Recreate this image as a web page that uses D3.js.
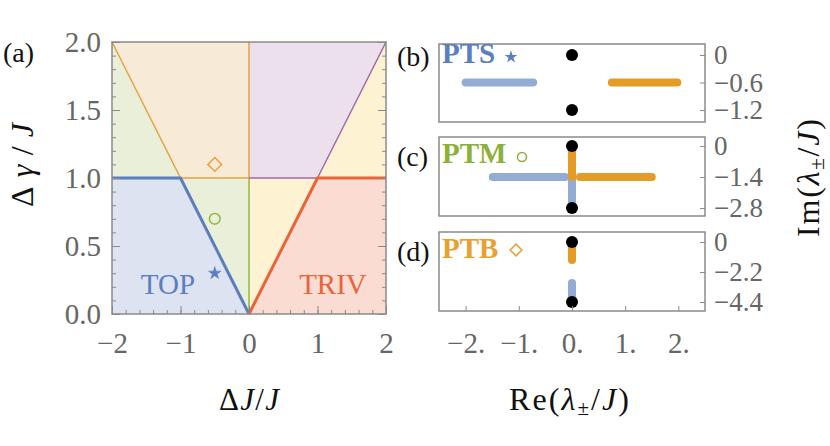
<!DOCTYPE html>
<html><head><meta charset="utf-8">
<script src="https://cdn.jsdelivr.net/npm/d3@7"></script>
<style>
body{margin:0;background:#fff;}
svg{display:block;}
text{font-family:"Liberation Serif","Times New Roman",serif;}
</style></head>
<body>
<svg id="chart" width="830" height="446"></svg>
<script>
// ---------- data ----------
// phase diagram (a): region polygons in (ΔJ/J, Δγ/J)
const regionNames  = ["TOP","PTM-left","PTM-mid","PTB","PTX","YEL-mid","YEL-right","TRIV"];
const regionColors = ["#dde3f0","#e9efd9","#e9efd9","#f7ead6","#ece0ec","#fdf3d2","#fdf3d2","#fadcd3"];
const regionPolys  = [
  [[-2,0],[-2,1],[-1,1],[0,0]],
  [[-2,1],[-2,2],[-1,1]],
  [[-1,1],[0,1],[0,0]],
  [[-2,2],[0,2],[0,1],[-1,1]],
  [[0,2],[2,2],[1,1],[0,1]],
  [[0,0],[0,1],[1,1]],
  [[1,1],[2,2],[2,1]],
  [[0,0],[2,0],[2,1],[1,1]]
];
// boundary lines
const boundaryPaths  = [
  [[-2,2],[-1,1],[0,1],[0,2]],
  [[0,0],[0,1]],
  [[0,1],[1,1],[2,2]],
  [[-2,1],[-1,1],[0,0]],
  [[0,0],[1,1],[2,1]]
];
const boundaryColors = ["#e6a23c","#90b83c","#9e6aac","#5a7ebf","#ea6438"];
const boundaryWidths = [1.5,1.5,1.5,3,3];
// markers in (a)
const markerKinds  = ["diamond","circle","star"];
const markerPoints = [[-0.5,1.1],[-0.5,0.7],[-0.5,0.3]];
const markerColors = ["#e6a23c","#90b83c","#5a7ebf"];
// axis ticks
const aXMajor = [-2,-1,0,1,2];
const aYMajor = [0,0.5,1,1.5,2];
// spectra panels (b)-(d)
const panelNames   = ["PTS","PTM","PTB"];
const panelLetters = ["(b)","(c)","(d)"];
const panelColors  = ["#5a7ebf","#8cb03a","#e8a030"];
const panelYTicks  = [[0,-0.6,-1.2],[0,-1.4,-2.8],[0,-2.2,-4.4]];
const panelYDomain = [[-1.46,0.24],[-3.16,0.41],[-5.06,0.73]];
const reTicks = [-2,-1,0,1,2];
// segments: [re1, im1, re2, im2]
const blueSegs = [
  [[-2.0,-0.6,-0.73,-0.6]],
  [[-1.49,-1.4,-0.13,-1.4],[0,-1.4,0,-2.55]],
  [[0,-3.0,0,-4.4]]
];
const orangeSegs = [
  [[0.75,-0.6,1.98,-0.6]],
  [[0.15,-1.4,1.5,-1.4],[0,0,0,-1.4]],
  [[0,0,0,-1.32]]
];
const dotPoints = [
  [[0,0],[0,-1.2]],
  [[0,0],[0,-2.8]],
  [[0,0],[0,-4.4]]
];

// ---------- drawing ----------
const svg = d3.select("#chart");
const MINUS = "\u2212";
const fmtSigned = d => d === 0 ? "0" : (d < 0 ? MINUS : "") + Math.abs(d);
const tickGrey = "#8a8a8a", labelGrey = "#666666", frameGrey = "#8a8a8a";

function styleAxis(g, fs){
  g.select(".domain").remove();
  g.selectAll(".tick line").attr("stroke", tickGrey).attr("stroke-width",1);
  g.selectAll("text").attr("font-size",fs || 29).attr("fill",labelGrey);
  g.attr("font-family",null).attr("font-size",null);
}

// ===== panel (a) =====
const xA = d3.scaleLinear().domain([-2,2]).range([112,386]);
const yA = d3.scaleLinear().domain([0,2]).range([314,42]);
const lineA = d3.line().x(d=>xA(d[0])).y(d=>yA(d[1]));

const gA = svg.append("g");
gA.selectAll("path.region").data(regionPolys).join("path")
  .attr("class","region")
  .attr("d", d => lineA(d) + "Z")
  .attr("fill",(d,i)=>regionColors[i]).attr("stroke","none");

gA.selectAll("path.bound").data(boundaryPaths).join("path")
  .attr("class","bound")
  .attr("d", lineA).attr("fill","none")
  .attr("stroke",(d,i)=>boundaryColors[i])
  .attr("stroke-width",(d,i)=>boundaryWidths[i])
  .attr("stroke-linejoin","round");

function symPath(kind, size){
  if(kind==="diamond") return d3.symbol(d3.symbolSquare, size)();
  if(kind==="circle") return d3.symbol(d3.symbolCircle, size)();
  return d3.symbol(d3.symbolStar, size)();
}
gA.selectAll("path.mk").data(markerPoints).join("path")
  .attr("class","mk")
  .attr("transform",(d,i)=>`translate(${xA(d[0])},${yA(d[1])})` + (markerKinds[i]==="diamond"?" rotate(45)":""))
  .attr("d",(d,i)=>symPath(markerKinds[i], markerKinds[i]==="diamond"?95:(markerKinds[i]==="circle"?90:50)))
  .attr("fill",(d,i)=>markerKinds[i]==="star"?markerColors[i]:"none")
  .attr("stroke",(d,i)=>markerColors[i])
  .attr("stroke-width",(d,i)=>markerKinds[i]==="star"?0.5:1.5);

// phase labels
gA.append("text").attr("x",168).attr("y",294).attr("text-anchor","middle")
  .attr("font-size",29).attr("fill","#5a7ebf").text("TOP");
gA.append("text").attr("x",333).attr("y",294).attr("text-anchor","middle")
  .attr("font-size",29).attr("fill","#ea6438").text("TRIV");

// axes (a)
const yMinor = d3.range(0,20.5,1).map(v=>v/10);
const xMinor = d3.range(-10,10.5,1).map(v=>v/5);
styleAxis(svg.append("g").attr("transform","translate(112,0)")
  .call(d3.axisLeft(yA).tickValues(yMinor).tickSize(-4).tickFormat("")));
styleAxis(svg.append("g").attr("transform","translate(112,0)")
  .call(d3.axisLeft(yA).tickValues(aYMajor).tickSize(-8).tickPadding(11).tickFormat(d3.format(".1f"))));
styleAxis(svg.append("g").attr("transform","translate(386,0)")
  .call(d3.axisRight(yA).tickValues(yMinor).tickSize(-4).tickFormat("")));
styleAxis(svg.append("g").attr("transform","translate(386,0)")
  .call(d3.axisRight(yA).tickValues(aYMajor).tickSize(-8).tickFormat("")));
styleAxis(svg.append("g").attr("transform","translate(0,314)")
  .call(d3.axisBottom(xA).tickValues(xMinor).tickSize(-4).tickFormat("")));
styleAxis(svg.append("g").attr("transform","translate(0,314)")
  .call(d3.axisBottom(xA).tickValues(aXMajor).tickSize(-8).tickPadding(18).tickFormat(fmtSigned)));

svg.append("rect").attr("x",112).attr("y",42).attr("width",274).attr("height",272)
  .attr("fill","none").attr("stroke",frameGrey).attr("stroke-width",1.5);

svg.append("text").attr("x",3).attr("y",62).attr("font-size",28).attr("fill","#111").text("(a)");

// axis titles (a)
const tx = svg.append("text").attr("x",249).attr("y",410).attr("text-anchor","middle")
  .attr("font-size",31).attr("fill","#111")
  .attr("textLength",60).attr("lengthAdjust","spacing");
tx.append("tspan").text("Δ");
tx.append("tspan").attr("font-style","italic").text("J");
tx.append("tspan").text("/");
tx.append("tspan").attr("font-style","italic").text("J");

const ty = svg.append("text").attr("transform","translate(33,165) rotate(-90)")
  .attr("text-anchor","middle").attr("font-size",32).attr("fill","#111")
  .attr("textLength",84).attr("lengthAdjust","spacing");
ty.append("tspan").text("Δ");
ty.append("tspan").attr("font-style","italic").text("γ");
ty.append("tspan").text("/");
ty.append("tspan").attr("font-style","italic").text("J");

// ===== panels (b)-(d) =====
const xR = d3.scaleLinear().domain([-2.5,2.5]).range([439,705]);
const panelTop = [44,137,232], panelBot = [122,216,311];
const nameBase = [63,163,258];
const blueC = "#93acd3", orangeC = "#e39c25";

panelNames.forEach((name,i)=>{
  const yS = d3.scaleLinear().domain(panelYDomain[i]).range([panelBot[i],panelTop[i]]);
  const g = svg.append("g");
  const segs = (arr,color)=>g.selectAll(null).data(arr).join("line")
    .attr("x1",d=>xR(d[0])).attr("y1",d=>yS(d[1]))
    .attr("x2",d=>xR(d[2])).attr("y2",d=>yS(d[3]))
    .attr("stroke",color).attr("stroke-width",8).attr("stroke-linecap","round");
  segs(blueSegs[i],blueC);
  segs(orangeSegs[i],orangeC);
  g.selectAll("circle.dot").data(dotPoints[i]).join("circle")
    .attr("class","dot").attr("cx",d=>xR(d[0])).attr("cy",d=>yS(d[1])).attr("r",6).attr("fill","#000");

  styleAxis(svg.append("g").attr("transform","translate(705,0)")
    .call(d3.axisRight(yS).tickValues(panelYTicks[i]).tickSize(-5).tickPadding(9).tickFormat(fmtSigned)), 27);
  if(i===2){
    styleAxis(svg.append("g").attr("transform",`translate(0,${panelBot[i]})`)
      .call(d3.axisBottom(xR).tickValues(reTicks).tickSize(-5).tickPadding(21)
        .tickFormat(d => (d<0?MINUS:"") + Math.abs(d) + ".")));
  }
  svg.append("rect").attr("x",439).attr("y",panelTop[i]).attr("width",266)
    .attr("height",panelBot[i]-panelTop[i]).attr("fill","none")
    .attr("stroke",frameGrey).attr("stroke-width",1.5);

  svg.append("text").attr("x",397).attr("y",nameBase[i]+3).attr("font-size",28)
    .attr("fill","#111").text(panelLetters[i]);
  svg.append("text").attr("x",442).attr("y",nameBase[i]).attr("font-size",29)
    .attr("font-weight","bold").attr("fill",panelColors[i]).text(name);
});

// panel title markers
svg.append("path").attr("transform","translate(511,57)")
  .attr("d",d3.symbol(d3.symbolStar,50)()).attr("fill","#5a7ebf");
svg.append("circle").attr("cx",522).attr("cy",157).attr("r",4.5)
  .attr("fill","none").attr("stroke","#8cb03a").attr("stroke-width",1.5);
svg.append("path").attr("transform","translate(516,250) rotate(45)")
  .attr("d",d3.symbol(d3.symbolSquare,70)()).attr("fill","none")
  .attr("stroke","#e8a030").attr("stroke-width",1.5);

// axis titles right
const rx = svg.append("text").attr("x",569).attr("y",410).attr("text-anchor","middle")
  .attr("font-size",32).attr("fill","#111")
  .attr("textLength",120).attr("lengthAdjust","spacing");
rx.append("tspan").text("Re(");
rx.append("tspan").attr("font-style","italic").text("λ");
rx.append("tspan").attr("font-size",21).attr("dy",5).text("±");
rx.append("tspan").attr("dy",-5).text("/");
rx.append("tspan").attr("font-style","italic").text("J");
rx.append("tspan").text(")");

const ry = svg.append("text").attr("transform","translate(819,178) rotate(-90)")
  .attr("text-anchor","middle").attr("font-size",32).attr("fill","#111")
  .attr("textLength",118).attr("lengthAdjust","spacing");
ry.append("tspan").text("Im(");
ry.append("tspan").attr("font-style","italic").text("λ");
ry.append("tspan").attr("font-size",21).attr("dy",5).text("±");
ry.append("tspan").attr("dy",-5).text("/");
ry.append("tspan").attr("font-style","italic").text("J");
ry.append("tspan").text(")");
</script>
</body></html>
